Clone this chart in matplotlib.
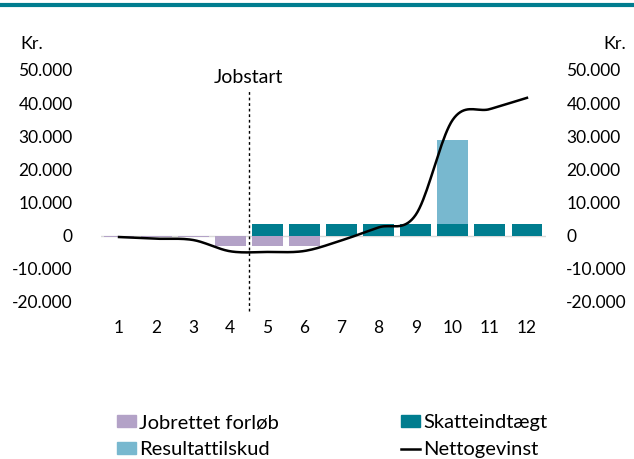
import numpy as np
import matplotlib
matplotlib.use('Agg')
import matplotlib.pyplot as plt
from matplotlib.lines import Line2D
from matplotlib.patches import Patch

plt.rcParams['font.family'] = ['Lato', 'DejaVu Sans']

# data (kr.)
maaned = [1, 2, 3, 4, 5, 6, 7, 8, 9, 10, 11, 12]
jobrettet = [-500, -500, -500, -3200, -3200, -3200, 0, 0, 0, 0, 0, 0]
skat = [0, 0, 0, 0, 3600, 3600, 3600, 3600, 3600, 3600, 3600, 3600]
resultat = [0, 0, 0, 0, 0, 0, 0, 0, 0, 25200, 0, 0]
netto = [-400, -900, -1300, -4700, -4900, -4600, -1400, 2500, 6300, 35000, 38200, 41600]
yticks = [-20000, -10000, 0, 10000, 20000, 30000, 40000, 50000]
ylabels = ['-20.000', '-10.000', '0', '10.000', '20.000', '30.000', '40.000', '50.000']

lilla = '#B3A2C7'
teal = '#007D8F'
lyseblaa = '#78B8CF'


def glat(x, y, n=20):
    # Catmull-Rom, som Excels udjaevnede linje
    x = np.asarray(x, float)
    y = np.asarray(y, float)
    px = np.concatenate([[2 * x[0] - x[1]], x, [2 * x[-1] - x[-2]]])
    py = np.concatenate([[2 * y[0] - y[1]], y, [2 * y[-1] - y[-2]]])
    xs, ys = [], []
    t = np.linspace(0, 1, n, endpoint=False)
    for i in range(1, len(px) - 2):
        for p, out in ((px, xs), (py, ys)):
            p0, p1, p2, p3 = p[i - 1], p[i], p[i + 1], p[i + 2]
            out.extend(0.5 * (2 * p1 + (-p0 + p2) * t
                              + (2 * p0 - 5 * p1 + 4 * p2 - p3) * t ** 2
                              + (-p0 + 3 * p1 - 3 * p2 + p3) * t ** 3))
    xs.append(x[-1])
    ys.append(y[-1])
    return xs, ys


fig = plt.figure(figsize=(6.34, 4.59), dpi=100)
ax = fig.add_axes([100.5 / 634, 1 - 302 / 459, 445 / 634, 232 / 459])

b = 0.83
ax.bar(maaned, jobrettet, b, color=lilla, zorder=2)
ax.bar(maaned, skat, b, color=teal, zorder=2)
ax.bar(maaned, resultat, b, bottom=skat, color=lyseblaa, zorder=2)
ax.axhline(0, color='#D9D9D9', lw=1, zorder=1)

gx, gy = glat(maaned, netto)
ax.plot(gx, gy, color='black', lw=1.8, zorder=3)

ax.plot([4.5, 4.5], [-22700, 44100], color='black', lw=1, ls=(0, (2, 2)),
        clip_on=False, zorder=4)
ax.text(4.5, 47600, 'Jobstart', ha='center', va='center', fontsize=14)

ax.set_xlim(0.5, 12.5)
ax.set_ylim(-20000, 50000)
ax.set_xticks(maaned)
ax.set_yticks(yticks)
ax.set_yticklabels(ylabels)
ax.tick_params(axis='x', length=0, pad=13, labelsize=12.5)
ax.tick_params(axis='y', length=0, pad=20, labelsize=12.5)
for s in ax.spines.values():
    s.set_visible(False)

# hoejre akse med samme skala
ax2 = ax.twinx()
ax2.set_ylim(ax.get_ylim())
ax2.set_yticks(yticks)
ax2.set_yticklabels(ylabels)
ax2.tick_params(axis='y', length=0, pad=15, labelsize=12.5)
for s in ax2.spines.values():
    s.set_visible(False)

fig.text(20 / 634, 1 - 44 / 459, 'Kr.', fontsize=13, va='center', ha='left')
fig.text(626 / 634, 1 - 44 / 459, 'Kr.', fontsize=13, va='center', ha='right')

# teal streg i toppen
fig.add_artist(Line2D([0, 1], [1 - 5 / 459, 1 - 5 / 459], color=teal, lw=3,
                      transform=fig.transFigure))

handles = [Patch(color=lilla), Patch(color=lyseblaa),
           Patch(color=teal), Line2D([0], [0], color='black', lw=1.8)]
labels = ['Jobrettet forløb', 'Resultattilskud', 'Skatteindtægt', 'Nettogevinst']
fig.legend(handles, labels, ncol=2, loc='upper left',
           bbox_to_anchor=(99 / 634, 1 - 396 / 459), frameon=False, fontsize=14.5,
           columnspacing=6.05, handlelength=0.95, handleheight=0.55,
           handletextpad=0.15, labelspacing=0.5)

fig.savefig('out.png', dpi=100)
